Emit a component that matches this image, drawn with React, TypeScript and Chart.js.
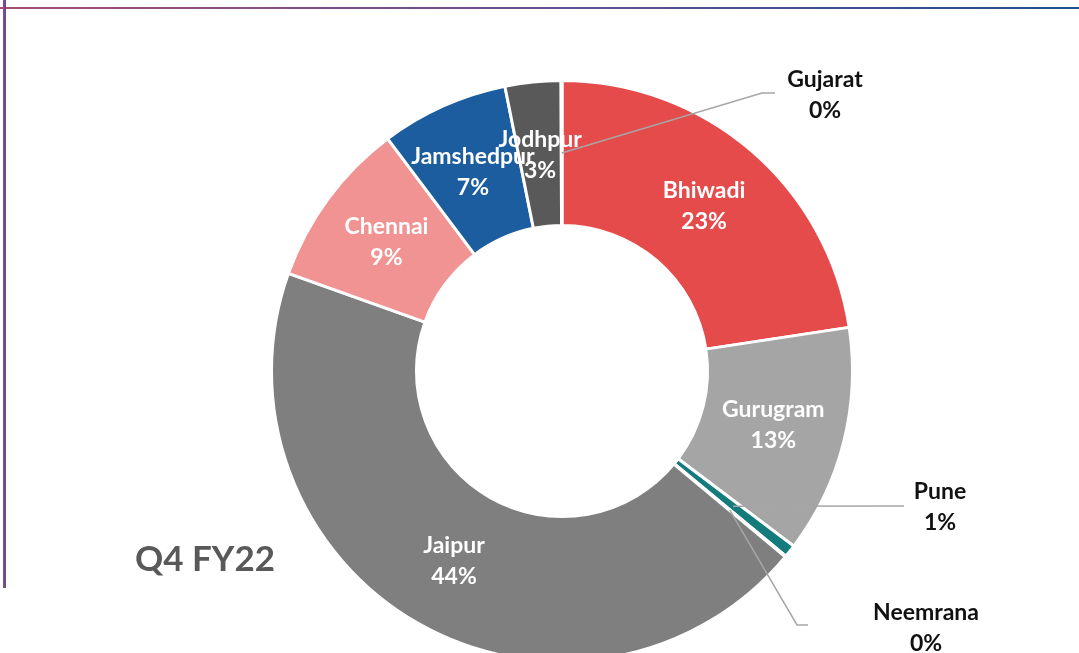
import React, { useEffect, useRef } from 'react';
import { Chart, registerables } from 'chart.js';

Chart.register(...registerables);

const categories = ['Bhiwadi', 'Gurugram', 'Pune', 'Neemrana', 'Jaipur', 'Chennai', 'Jamshedpur', 'Jodhpur', 'Gujarat'];
const shares = [22.6, 12.7, 0.7, 0.05, 44.4, 9.3, 7.1, 3.1, 0.05];
const sliceColors = ['#E54B4B', '#A5A5A5', '#137B7B', '#264478', '#7F7F7F', '#F09392', '#1C5DA0', '#595959', '#9E480E'];
const chartTitle = 'Q4 FY22';

const labelFont = 'bold 23px Lato, "Open Sans", sans-serif';
const titleFont = 'bold 35px Lato, "Open Sans", sans-serif';

const calloutLayout: Record<string, { path: [number, number][]; text: [number, number] }> = {
  Gujarat: { path: [[762, 93], [775, 93]], text: [825, 95] },
  Pune: { path: [[904, 506]], text: [940, 507] },
  Neemrana: { path: [[797, 625], [808, 625]], text: [926, 628] },
};

const labelPlugin = {
  id: 'sliceLabels',
  afterDatasetsDraw(chart: any) {
    const ctx = chart.ctx as CanvasRenderingContext2D;
    const meta = chart.getDatasetMeta(0);
    const data = chart.data.datasets[0].data as number[];
    const total = data.reduce((a, b) => a + b, 0);
    ctx.save();
    ctx.font = labelFont;
    ctx.textAlign = 'center';
    ctx.textBaseline = 'middle';
    meta.data.forEach((arc: any, i: number) => {
      const name = categories[i];
      const pct = Math.round((data[i] / total) * 100) + '%';
      const p = arc.getProps(['x', 'y', 'startAngle', 'endAngle', 'innerRadius', 'outerRadius'], true);
      const mid = (p.startAngle + p.endAngle) / 2;
      const r = (p.innerRadius + p.outerRadius) / 2;
      const cx = p.x + Math.cos(mid) * r;
      const cy = p.y + Math.sin(mid) * r;
      const callout = calloutLayout[name];
      if (callout) {
        ctx.strokeStyle = '#A6A6A6';
        ctx.lineWidth = 1.5;
        ctx.beginPath();
        ctx.moveTo(cx, cy);
        callout.path.forEach(([px, py]) => ctx.lineTo(px, py));
        ctx.stroke();
        ctx.fillStyle = '#111111';
        const [tx, ty] = callout.text;
        ctx.fillText(name, tx, ty - 15);
        ctx.fillText(pct, tx, ty + 16);
      } else {
        ctx.fillStyle = '#FFFFFF';
        ctx.fillText(name, cx, cy - 15);
        ctx.fillText(pct, cx, cy + 16);
      }
    });
    ctx.font = titleFont;
    ctx.fillStyle = '#595959';
    ctx.fillText(chartTitle, 205, 560);
    ctx.restore();
  },
};

export default function App() {
  const canvasRef = useRef<HTMLCanvasElement | null>(null);

  useEffect(() => {
    if (!canvasRef.current) return;
    const chart = new Chart(canvasRef.current, {
      type: 'doughnut',
      data: {
        labels: categories,
        datasets: [
          {
            data: shares,
            backgroundColor: sliceColors,
            borderColor: '#FFFFFF',
            borderWidth: 3,
            hoverOffset: 0,
            offset: 0,
          },
        ],
      },
      options: {
        responsive: false,
        animation: false,
        cutout: '50.1%',
        layout: { padding: { top: 79, bottom: 37, left: 270, right: 225 } },
        plugins: {
          legend: { display: false },
          tooltip: { enabled: false },
        },
        events: [],
      },
      plugins: [labelPlugin],
    });
    return () => chart.destroy();
  }, []);

  return (
    <div style={{ position: 'fixed', left: 0, top: 0, width: 1079, height: 700, background: '#FFFFFF', overflow: 'hidden' }}>
      <canvas ref={canvasRef} width={1079} height={700} style={{ display: 'block', width: 1079, height: 700 }} />
      <div
        style={{
          position: 'absolute',
          left: 0,
          top: 7,
          width: 1079,
          height: 2,
          background: 'linear-gradient(to right, #A94C71 0%, #7A4F86 30%, #5E5190 55%, #1F4F8E 100%)',
        }}
      />
      <div
        style={{
          position: 'absolute',
          left: 3,
          top: 0,
          width: 3,
          height: 588,
          background: 'linear-gradient(to right, #B04A6E, #6E4C8A, #5E4E8E)',
        }}
      />
    </div>
  );
}
